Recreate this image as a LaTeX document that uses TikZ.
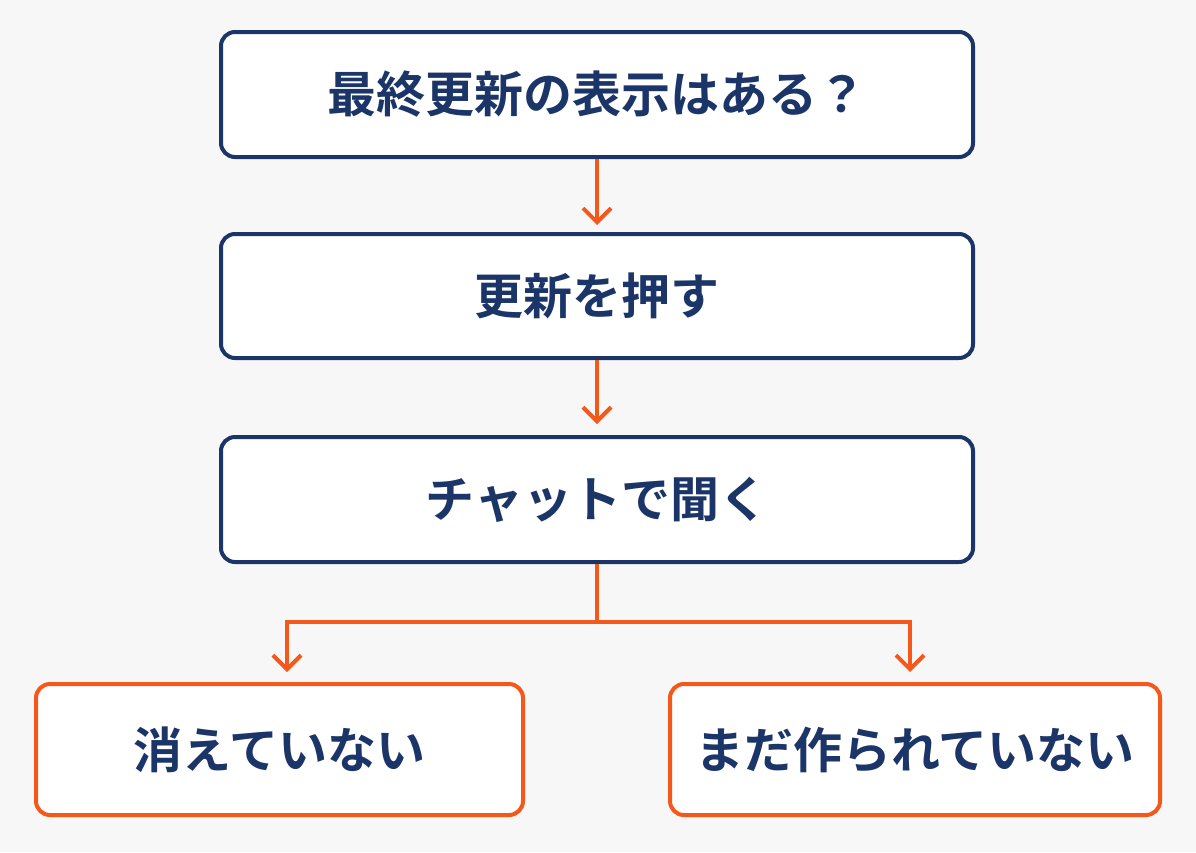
\documentclass[tikz,border=0pt]{standalone}
\usepackage{fontspec}
\newfontfamily\jp{Noto Sans CJK JP}[BoldFont={* Bold}]
\usetikzlibrary{arrows.meta}
\definecolor{navy}{HTML}{1B3568}
\definecolor{org}{HTML}{F4581A}
\begin{document}
\begin{tikzpicture}[x=1pt,y=-1pt,
 box/.style={draw=navy,line width=4pt,rounded corners=14pt,fill=white,text=navy,font=\jp\bfseries\fontsize{49}{52}\selectfont,inner sep=0pt},
 obox/.style={box,draw=org},
 arr/.style={draw=org,line width=4pt,-{Straight Barb[length=14pt,width=28pt,line width=4pt]}}]
\fill[white!97!black] (0,0) rectangle (1196,852);
\useasboundingbox (0,0) rectangle (1196,852);
\node[box,minimum width=752pt,minimum height=125pt] (a) at (597,94.5) {最終更新の表示はある？};
\node[box,minimum width=752pt,minimum height=124pt] (b) at (597,296) {更新を押す};
\node[box,minimum width=752pt,minimum height=125pt] (c) at (597,499.5) {チャットで聞く};
\node[obox,minimum width=487pt,minimum height=131pt] (d) at (279.5,749.5) {消えていない};
\node[obox,minimum width=490pt,minimum height=131pt] (e) at (915,749.5) {まだ作られていない};
\coordinate (j) at (597,622);
\coordinate (dl) at (287,672);
\coordinate (el) at (910,672);
\draw[arr] (a.south) -- ++(0,66);
\draw[arr] (b.south) -- ++(0,64);
\draw[draw=org,line width=4pt] (c.south) -- (j);
\draw[arr] (j) -| (dl);
\draw[arr] (j) -| (el);
\end{tikzpicture}
\end{document}
